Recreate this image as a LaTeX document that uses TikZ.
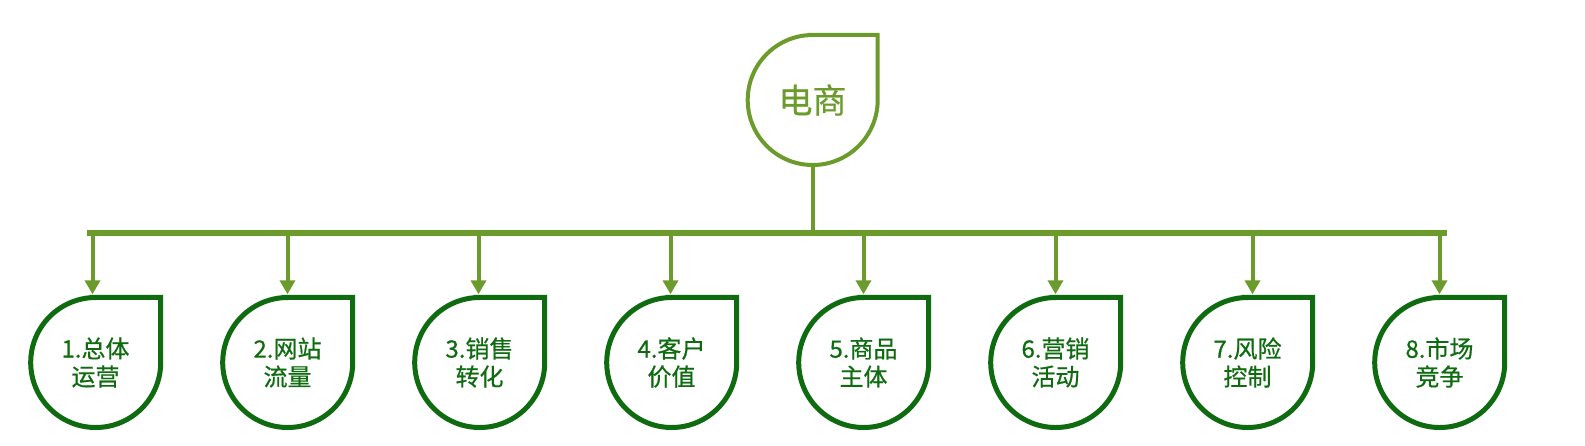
\documentclass[tikz,border=0pt]{standalone}
\usepackage{fontspec}
\setmainfont{Noto Sans CJK SC}[FakeBold=0.6]
\usetikzlibrary{arrows.meta,calc}
\definecolor{olivegr}{HTML}{6B9B2B}
\definecolor{dkgreen}{HTML}{0F6B0F}
\begin{document}
\begin{tikzpicture}[x=1pt,y=1pt]
\useasboundingbox (0,0) rectangle (1585,-445);
\tikzset{
  leaf/.style={circle, minimum size=130pt, inner sep=0pt, align=center},
  sub/.style={leaf, text=dkgreen, font=\fontsize{24}{28}\selectfont},
  root/.style={leaf, text=olivegr, font=\fontsize{34}{40}\selectfont},
  conn/.style={draw=olivegr, line width=4pt},
  arr/.style={conn, -{Triangle[length=14pt,width=15pt]}, shorten >=3pt},
  subline/.style={draw=dkgreen, line width=5pt},
  rootline/.style={draw=olivegr, line width=4pt},
  barline/.style={draw=olivegr, line width=6pt},
}
% root
\node[root] (top) at (812.5,-100) {电商};
\draw[rootline] (top.north) -- (top.north -| top.east) -- (top.east)
  arc[start angle=0, end angle=-270, radius=65pt] -- cycle;
% sub nodes
\node[sub] (n1) at (95.5,-362.5)  {1.总体\\运营};
\node[sub] (n2) at (287.5,-362.5) {2.网站\\流量};
\node[sub] (n3) at (479.5,-362.5) {3.销售\\转化};
\node[sub] (n4) at (671.5,-362.5) {4.客户\\价值};
\node[sub] (n5) at (863.5,-362.5) {5.商品\\主体};
\node[sub] (n6) at (1055.5,-362.5) {6.营销\\活动};
\node[sub] (n7) at (1247.5,-362.5) {7.风险\\控制};
\node[sub] (n8) at (1439.5,-362.5) {8.市场\\竞争};
\foreach \n in {n1,n2,n3,n4,n5,n6,n7,n8}{
  \draw[subline] (\n.north) -- (\n.north -| \n.east) -- (\n.east)
    arc[start angle=0, end angle=-270, radius=65pt] -- cycle;
}
% bar
\coordinate (bl) at (87,-233);
\coordinate (br) at (1447,-233);
\draw[barline] (bl) -- (br);
\draw[conn] (top.south) -- (top.south |- bl);
% arrows
\foreach \n/\dx in {n1/-3,n2/0,n3/-1,n4/-1,n5/0,n6/0,n7/5,n8/0}{
  \draw[arr] ([xshift=\dx pt]\n.north |- bl) -- ([xshift=\dx pt]\n.north);
}
\end{tikzpicture}
\end{document}
